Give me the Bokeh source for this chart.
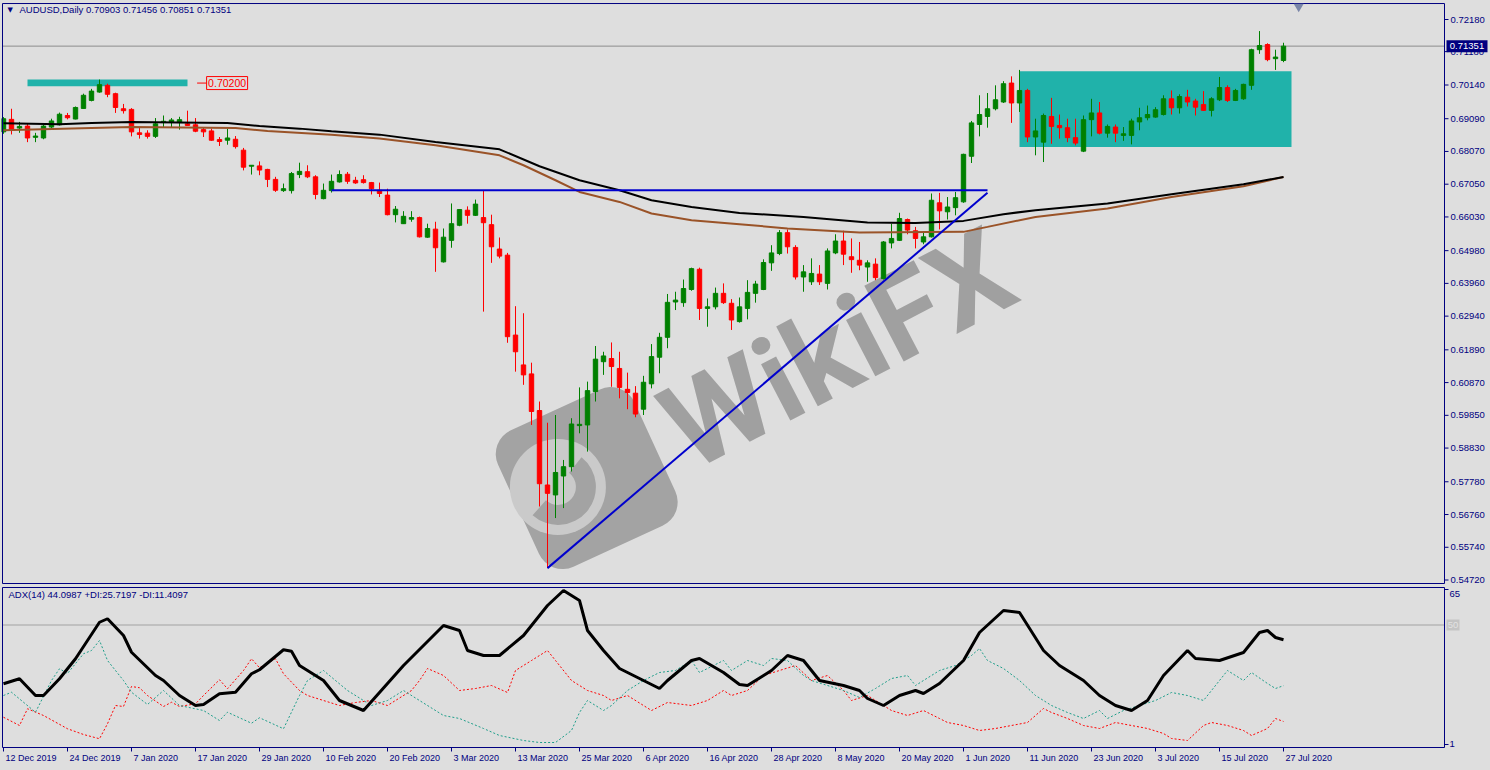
from bokeh.plotting import figure
from bokeh.models import Range1d, ColumnDataSource, Rect
from bokeh.layouts import column
from bokeh.embed import file_html
from bokeh.resources import INLINE
from bokeh.core.properties import value

# ---------------- data ----------------
date_labels = ["12 Dec 2019", "24 Dec 2019", "7 Jan 2020", "17 Jan 2020", "29 Jan 2020",
               "10 Feb 2020", "20 Feb 2020", "3 Mar 2020", "13 Mar 2020", "25 Mar 2020",
               "6 Apr 2020", "16 Apr 2020", "28 Apr 2020", "8 May 2020", "20 May 2020",
               "1 Jun 2020", "11 Jun 2020", "23 Jun 2020", "3 Jul 2020", "15 Jul 2020",
               "27 Jul 2020"]
date_label_bars = list(range(0, 161, 8))

open_ = [0.6868, 0.6907, 0.6880, 0.6886, 0.6851, 0.6849, 0.6883, 0.6890, 0.6919, 0.6908,
         0.6941, 0.6966, 0.6992, 0.7013, 0.6987, 0.6940, 0.6938, 0.6865, 0.6864, 0.6854,
         0.6897, 0.6899, 0.6897, 0.6893, 0.6890, 0.6875, 0.6871, 0.6844, 0.6842, 0.6845,
         0.6811, 0.6761, 0.6762, 0.6751, 0.6720, 0.6685, 0.6685, 0.6735, 0.6744, 0.6728,
         0.6660, 0.6685, 0.6712, 0.6736, 0.6717, 0.6719, 0.6710, 0.6686, 0.6671, 0.6610,
         0.6582, 0.6596, 0.6601, 0.6540, 0.6565, 0.6463, 0.6530, 0.6577, 0.6624, 0.6608,
         0.6601, 0.6579, 0.6503, 0.6484, 0.6235, 0.6142, 0.6114, 0.6000, 0.5768, 0.5737,
         0.5796, 0.5825, 0.5953, 0.5955, 0.6059, 0.6152, 0.6162, 0.6131, 0.6066, 0.6054,
         0.6004, 0.6083, 0.6166, 0.6228, 0.6338, 0.6336, 0.6377, 0.6440, 0.6318, 0.6323,
         0.6365, 0.6334, 0.6277, 0.6318, 0.6365, 0.6377, 0.6460, 0.6489, 0.6554, 0.6508,
         0.6416, 0.6401, 0.6425, 0.6396, 0.6491, 0.6528, 0.6479, 0.6468, 0.6447, 0.6456,
         0.6411, 0.6522, 0.6530, 0.6595, 0.6560, 0.6525, 0.6541, 0.6647, 0.6619, 0.6632,
         0.6650, 0.6792, 0.6891, 0.6916, 0.6940, 0.6961, 0.7020, 0.6958, 0.6997, 0.6852,
         0.6836, 0.6916, 0.6888, 0.6881, 0.6850, 0.6808, 0.6906, 0.6927, 0.6864, 0.6883,
         0.6857, 0.6857, 0.6899, 0.6912, 0.6914, 0.6922, 0.6971, 0.6943, 0.6976, 0.6964,
         0.6953, 0.6935, 0.6968, 0.7006, 0.6966, 0.6971, 0.7013, 0.7124, 0.7140, 0.7096,
         0.70903]
high = [0.6914, 0.6940, 0.6899, 0.6893, 0.6865, 0.6890, 0.6909, 0.6928, 0.6927, 0.6947,
        0.6987, 0.7002, 0.7031, 0.7018, 0.6990, 0.6955, 0.6942, 0.6880, 0.6873, 0.6911,
        0.6919, 0.6911, 0.6915, 0.6934, 0.6911, 0.6883, 0.6878, 0.6852, 0.6878, 0.6855,
        0.6818, 0.6764, 0.6776, 0.6753, 0.6728, 0.6707, 0.6743, 0.6772, 0.6764, 0.6733,
        0.6707, 0.6735, 0.6748, 0.6743, 0.6728, 0.6733, 0.6712, 0.6710, 0.6691, 0.6637,
        0.6621, 0.6621, 0.6604, 0.6582, 0.6588, 0.6567, 0.6645, 0.6626, 0.6636, 0.6657,
        0.6686, 0.6610, 0.6539, 0.6491, 0.6325, 0.6303, 0.6149, 0.6028, 0.5962, 0.5986,
        0.5846, 0.5976, 0.6072, 0.6090, 0.6201, 0.6183, 0.6212, 0.6183, 0.6118, 0.6076,
        0.6108, 0.6207, 0.6242, 0.6363, 0.6370, 0.6408, 0.6445, 0.6445, 0.6349, 0.6383,
        0.6396, 0.6347, 0.6352, 0.6406, 0.6404, 0.6471, 0.6515, 0.6562, 0.6564, 0.6515,
        0.6453, 0.6474, 0.6453, 0.6505, 0.6549, 0.6560, 0.6536, 0.6525, 0.6468, 0.6474,
        0.6528, 0.6582, 0.6616, 0.6598, 0.6572, 0.6557, 0.6676, 0.6678, 0.6665, 0.6681,
        0.6800, 0.6902, 0.6982, 0.6989, 0.7013, 0.7026, 0.7041, 0.7061, 0.7002, 0.6909,
        0.6925, 0.6974, 0.6922, 0.6909, 0.6909, 0.6919, 0.6971, 0.6961, 0.6891, 0.6891,
        0.6883, 0.6909, 0.6943, 0.6950, 0.6945, 0.6982, 0.6997, 0.6985, 0.6999, 0.6971,
        0.6995, 0.6976, 0.7039, 0.7013, 0.7002, 0.7018, 0.7127, 0.7182, 0.7144, 0.7124,
        0.71456]
low = [0.6862, 0.6860, 0.6865, 0.6836, 0.6836, 0.6845, 0.6880, 0.6888, 0.6907, 0.6907,
       0.6940, 0.6963, 0.6990, 0.6976, 0.6927, 0.6925, 0.6854, 0.6847, 0.6847, 0.6849,
       0.6883, 0.6883, 0.6875, 0.6888, 0.6867, 0.6852, 0.6840, 0.6824, 0.6828, 0.6816,
       0.6748, 0.6735, 0.6733, 0.6696, 0.6681, 0.6681, 0.6676, 0.6724, 0.6724, 0.6658,
       0.6658, 0.6679, 0.6710, 0.6706, 0.6706, 0.6707, 0.6673, 0.6665, 0.6608, 0.6586,
       0.6581, 0.6588, 0.6539, 0.6538, 0.6432, 0.6461, 0.6507, 0.6574, 0.6582, 0.6606,
       0.6308, 0.6460, 0.6474, 0.6211, 0.6121, 0.6080, 0.5955, 0.5701, 0.5509, 0.5665,
       0.5696, 0.5810, 0.5929, 0.5872, 0.6028, 0.6111, 0.6074, 0.6038, 0.6004, 0.5979,
       0.5986, 0.6069, 0.6116, 0.6194, 0.6313, 0.6323, 0.6373, 0.6282, 0.6261, 0.6315,
       0.6332, 0.6251, 0.6274, 0.6284, 0.6336, 0.6375, 0.6435, 0.6484, 0.6489, 0.6408,
       0.6370, 0.6391, 0.6391, 0.6377, 0.6487, 0.6453, 0.6429, 0.6437, 0.6401, 0.6406,
       0.6408, 0.6505, 0.6528, 0.6549, 0.6505, 0.6518, 0.6539, 0.6564, 0.6595, 0.6608,
       0.6647, 0.6771, 0.6854, 0.6881, 0.6935, 0.6958, 0.6896, 0.6930, 0.6836, 0.6795,
       0.6774, 0.6831, 0.6847, 0.6836, 0.6826, 0.6805, 0.6854, 0.6860, 0.6850, 0.6836,
       0.6840, 0.6829, 0.6873, 0.6904, 0.6912, 0.6919, 0.6922, 0.6925, 0.6947, 0.6919,
       0.6933, 0.6916, 0.6964, 0.6961, 0.6964, 0.6968, 0.6999, 0.7111, 0.7088, 0.7061,
       0.70851]
close = [0.6909, 0.6876, 0.6885, 0.6849, 0.6855, 0.6886, 0.6902, 0.6923, 0.6912, 0.6944,
         0.6982, 0.6995, 0.7015, 0.6985, 0.6944, 0.6934, 0.6868, 0.6860, 0.6854, 0.6893,
         0.6901, 0.6905, 0.6906, 0.6888, 0.6870, 0.6868, 0.6842, 0.6838, 0.6849, 0.6822,
         0.6758, 0.6764, 0.6749, 0.6720, 0.6686, 0.6691, 0.6738, 0.6745, 0.6728, 0.6673,
         0.6686, 0.6714, 0.6735, 0.6714, 0.6709, 0.6710, 0.6691, 0.6676, 0.6610, 0.6627,
         0.6605, 0.6601, 0.6541, 0.6567, 0.6507, 0.6540, 0.6582, 0.6626, 0.6608, 0.6643,
         0.6585, 0.6510, 0.6481, 0.6230, 0.6183, 0.6111, 0.5997, 0.5772, 0.5742, 0.5807,
         0.5825, 0.5958, 0.5957, 0.6062, 0.6160, 0.6170, 0.6137, 0.6072, 0.6056, 0.5989,
         0.6088, 0.6168, 0.6228, 0.6337, 0.6344, 0.6380, 0.6442, 0.6318, 0.6323, 0.6365,
         0.6336, 0.6282, 0.6323, 0.6368, 0.6394, 0.6461, 0.6491, 0.6554, 0.6510, 0.6416,
         0.6432, 0.6427, 0.6401, 0.6497, 0.6528, 0.6487, 0.6470, 0.6453, 0.6460, 0.6414,
         0.6525, 0.6536, 0.6598, 0.6562, 0.6536, 0.6541, 0.6655, 0.6622, 0.6634, 0.6663,
         0.6798, 0.6896, 0.6922, 0.6940, 0.6968, 0.7018, 0.6958, 0.6997, 0.6852, 0.6871,
         0.6919, 0.6885, 0.6881, 0.6850, 0.6833, 0.6906, 0.6927, 0.6864, 0.6885, 0.6864,
         0.6862, 0.6902, 0.6912, 0.6922, 0.6937, 0.6971, 0.6943, 0.6978, 0.6961, 0.6945,
         0.6935, 0.6971, 0.7006, 0.6966, 0.6997, 0.7016, 0.7124, 0.7137, 0.7093, 0.7101,
         0.71351]

ma_black_bar = [0, 7, 11, 16, 28, 32, 37, 41, 47, 54, 62, 67, 72, 77, 81, 86, 92, 100, 108,
                114, 120, 125, 129, 138, 146, 155, 160]
ma_black_val = [0.68946, 0.68915, 0.68955, 0.68986, 0.68955, 0.68862, 0.68781, 0.68697,
                0.68594, 0.68364, 0.68137, 0.67608, 0.67173, 0.66862, 0.66551, 0.66343,
                0.66156, 0.66031, 0.65857, 0.65845, 0.65907, 0.66116, 0.66240, 0.66448,
                0.66738, 0.67049, 0.67276]
ma_brown_bar = [0, 11, 16, 29, 33, 41, 47, 54, 62, 65, 69, 72, 77, 81, 86, 92, 98, 107, 120,
                123, 129, 138, 146, 155, 160]
ma_brown_val = [0.68728, 0.68800, 0.68831, 0.68800, 0.68706, 0.68594, 0.68470, 0.68261,
                0.67950, 0.67640, 0.67173, 0.66809, 0.66498, 0.66137, 0.65929, 0.65805,
                0.65671, 0.65546, 0.65565, 0.65720, 0.66031, 0.66293, 0.66654, 0.66987,
                0.67276]

adx_bar = [0, 2, 4, 5, 7, 9, 12, 13, 15, 16, 19, 20, 22, 24, 25, 27, 29, 31, 32, 35, 36, 37,
           40, 42, 45, 50, 55, 57, 58, 60, 62, 65, 68, 70, 72, 73, 75, 77, 80, 82, 83, 86,
           87, 90, 92, 93, 96, 98, 100, 102, 105, 107, 108, 110, 112, 114, 115, 117, 120,
           122, 125, 127, 130, 132, 135, 137, 139, 141, 143, 145, 148, 149, 152, 155, 157,
           158, 159, 160]
adx_val = [26.5, 28.5, 21.8, 21.8, 28.5, 36.5, 51.1, 52.5, 45.8, 39.1, 29.8, 27.8, 21.8,
           17.8, 18.2, 22.5, 23.1, 30.5, 32.1, 40.1, 39.5, 33.8, 27.8, 19.8, 15.8, 33.8,
           49.8, 47.8, 39.8, 37.8, 37.8, 45.8, 57.8, 63.8, 59.8, 47.8, 39.8, 32.6, 27.8,
           24.6, 27.8, 35.8, 36.6, 31.0, 26.2, 25.8, 31.8, 37.8, 35.8, 27.8, 25.8, 23.8,
           20.6, 17.8, 21.8, 23.8, 22.6, 26.6, 35.8, 47.0, 55.8, 55.0, 39.8, 33.8, 27.8,
           21.8, 17.8, 15.8, 19.8, 29.8, 39.8, 36.6, 35.8, 39.0, 47.0, 47.8, 45.0, 44.0987]
pdi_bar = [0, 1, 4, 6, 7, 8, 10, 11, 12, 13, 15, 16, 18, 20, 22, 25, 27, 28, 31, 32, 35, 37,
           38, 40, 43, 45, 46, 48, 50, 52, 55, 57, 60, 62, 65, 67, 69, 71, 72, 73, 75, 76,
           78, 80, 82, 84, 86, 87, 88, 90, 91, 93, 95, 96, 98, 100, 101, 103, 105, 107, 109,
           111, 113, 114, 115, 117, 119, 121, 122, 123, 125, 127, 129, 131, 133, 135, 137,
           138, 140, 142, 144, 146, 148, 150, 151, 153, 155, 156, 158, 159, 160]
pdi_val = [21.8, 23.1, 15.1, 27.8, 32.5, 30.6, 38.5, 39.8, 43.8, 35.8, 27.8, 23.1, 18.2,
           23.8, 17.8, 15.8, 11.8, 15.1, 10.7, 12.9, 8.5, 21.8, 27.8, 31.8, 23.8, 19.8, 17.8,
           19.8, 23.8, 19.8, 13.8, 12.6, 8.6, 5.8, 3.8, 3.0, 3.0, 7.8, 15.0, 19.8, 15.8,
           17.8, 23.8, 27.8, 31.0, 31.8, 35.8, 31.0, 32.6, 35.8, 31.8, 35.8, 33.8, 36.6,
           35.8, 29.8, 27.8, 25.8, 23.8, 21.0, 24.6, 28.6, 29.8, 25.8, 27.8, 31.8, 33.8,
           37.8, 40.6, 35.8, 32.6, 27.8, 21.8, 17.8, 15.0, 12.6, 15.8, 12.6, 15.8, 17.8,
           19.8, 23.0, 21.8, 19.8, 23.8, 31.8, 27.8, 31.0, 26.6, 24.6, 25.7197]
mdi_bar = [0, 2, 3, 5, 8, 10, 12, 13, 14, 15, 16, 17, 18, 20, 21, 22, 24, 25, 27, 28, 30,
           31, 32, 34, 35, 37, 38, 40, 42, 44, 46, 48, 49, 51, 52, 53, 55, 57, 59, 61, 63,
           64, 66, 68, 69, 71, 73, 75, 76, 78, 80, 81, 83, 86, 88, 90, 91, 93, 95, 97, 99,
           101, 103, 105, 106, 108, 110, 111, 113, 115, 117, 118, 120, 122, 124, 126, 128,
           130, 131, 133, 135, 137, 139, 141, 143, 145, 146, 148, 150, 151, 153, 155, 156,
           158, 159, 160]
mdi_val = [13.1, 9.8, 16.5, 13.8, 8.5, 6.2, 4.5, 10.5, 17.8, 17.4, 25.4, 24.9, 21.8, 17.4,
           19.1, 17.4, 18.5, 21.8, 28.1, 24.5, 31.8, 36.5, 32.9, 36.5, 30.5, 23.8, 21.8,
           19.8, 17.8, 19.0, 19.8, 17.8, 19.8, 23.8, 27.8, 32.6, 29.8, 23.8, 24.6, 25.8,
           23.0, 31.8, 35.8, 39.8, 35.8, 27.8, 23.8, 21.8, 19.8, 21.8, 17.8, 15.8, 19.0,
           17.8, 19.8, 23.8, 21.8, 23.8, 29.8, 31.8, 33.8, 27.8, 29.8, 23.8, 19.8, 21.8,
           17.8, 15.8, 13.8, 15.8, 12.6, 11.0, 9.8, 7.8, 8.6, 9.8, 11.0, 16.6, 15.0, 12.6,
           9.8, 8.6, 11.0, 9.8, 8.6, 6.6, 4.6, 3.8, 9.8, 11.0, 9.8, 7.8, 5.8, 8.6, 12.6,
           11.4097]

price_ticks = [0.72180, 0.71180, 0.70140, 0.69090, 0.68070, 0.67050, 0.66030, 0.64980,
               0.63960, 0.62940, 0.61890, 0.60870, 0.59850, 0.58830, 0.57780, 0.56760,
               0.55740, 0.54720]
adx_scale_labels = ["65", "1"]

bid_price = 0.71351
level_label_price = 0.70200
resistance_level = 0.6686
resistance_from, resistance_to = 41, 123
trend_from = (68, 0.5509)
trend_to = (123, 0.6678)
zone_small = dict(left=3.0, right=23.0, bottom=0.7010, top=0.7031)
zone_big = dict(left=127.0, right=161.0, bottom=0.6821, top=0.7057)

# ---------------- styling / geometry ----------------
FONT = "Liberation Sans"
BG = "#DEDEDE"
NAVY = "#000080"
GREEN = "#008000"
RED = "#FF0000"
TEAL = "#20B2AA"
BLUE = "#0000CD"
BROWN = "#9A5328"
WM = "#A3A3A3"

PX_BAR = 8.0                 # pixels per bar
PX_PRICE = 0.0003115         # price per pixel (main panel)
PX_ADX = 0.4                 # ADX units per pixel

XL, XR = -0.25, 185.625      # frame extent in bars
XB_L, XB_R = -0.125, 180.125  # chart border (left edge, price-scale line)
P_TOP, P_BOT = 0.72710, 0.54549
PB_TOP, PB_BOT = 0.72678, 0.54611
A_TOP, A_BOT = 65.8, -7.4
TICK = 4 / PX_BAR

x_range = Range1d(XL, XR)

common = dict(toolbar_location=None, output_backend="svg",
              background_fill_color=BG, border_fill_color=BG,
              outline_line_color=None, x_axis_location=None, y_axis_location=None,
              min_border_left=1, min_border_right=0)

main = figure(x_range=x_range, y_range=Range1d(P_BOT, P_TOP),
              frame_width=1487, frame_height=583, min_border_top=2, min_border_bottom=0,
              **common)
main.grid.visible = False

# --- watermark (under the chart) ---
logo_kw = dict(width=150, height=150, width_units="screen", height_units="screen",
               angle=0.43, fill_color=WM, line_color=None)
if "border_radius" in Rect.properties():
    logo_kw["border_radius"] = 26
main.rect(x=[72.9], y=[0.57896], **logo_kw)
main.scatter(x=[69.3], y=[0.5762], marker="circle", size=96,
             fill_color="#CACACA", line_color=None)
main.annular_wedge(x=[69.3], y=[0.5762], inner_radius=18, outer_radius=38,
                   inner_radius_units="screen", outer_radius_units="screen",
                   start_angle=-2.3, end_angle=0.9, fill_color=WM, line_color=None)
main.text(x=[104.3], y=[0.6190], text=["WikiFX"], angle=0.48,
          text_font=value("Roboto"), text_font_style="bold", text_font_size="120px",
          text_color="#A0A0A0", text_align="center", text_baseline="middle")

# --- zones ---
for z in (zone_small, zone_big):
    main.quad(left=[z["left"]], right=[z["right"]], bottom=[z["bottom"]], top=[z["top"]],
              fill_color=TEAL, line_color=None)

# --- bid line ---
main.segment(x0=[XB_L], y0=[bid_price], x1=[XB_R], y1=[bid_price],
             line_color="#8C8C8C", line_width=1)

# --- candles ---
idx = list(range(len(open_)))
colors = [GREEN if c >= o else RED for o, c in zip(open_, close)]
src = ColumnDataSource(dict(x=idx, o=open_, h=high, l=low, c=close,
                            top=[max(o, c) for o, c in zip(open_, close)],
                            bottom=[min(o, c) for o, c in zip(open_, close)],
                            color=colors))
main.segment(x0="x", y0="l", x1="x", y1="h", line_color="color", line_width=1, source=src)
main.vbar(x="x", top="top", bottom="bottom", width=0.55, fill_color="color",
          line_color="color", line_width=1, source=src)

# --- moving averages ---
main.line(ma_brown_bar, ma_brown_val, line_color=BROWN, line_width=2)
main.line(ma_black_bar, ma_black_val, line_color="#000000", line_width=2)

# --- trend lines ---
main.line([resistance_from, resistance_to], [resistance_level, resistance_level],
          line_color=BLUE, line_width=2)
main.line([trend_from[0], trend_to[0]], [trend_from[1], trend_to[1]],
          line_color=BLUE, line_width=2)

# --- level label 0.70200 ---
main.segment(x0=[24.2], y0=[level_label_price], x1=[25.4], y1=[level_label_price],
             line_color=RED, line_width=1)
main.rect(x=[27.95], y=[level_label_price], width=41, height=13,
          width_units="screen", height_units="screen",
          fill_color=BG, line_color=RED, line_width=1)
main.text(x=[27.95], y=[level_label_price], text=["0.70200"],
          text_font=value(FONT), text_font_size="10.5px", text_color=RED,
          text_align="center", text_baseline="middle")

# --- chart border & price scale ---
main.quad(left=[XB_L], right=[XB_R], bottom=[PB_BOT], top=[PB_TOP],
          fill_color=None, line_color=NAVY, line_width=1)
main.segment(x0=[XB_R] * len(price_ticks), y0=price_ticks,
             x1=[XB_R + TICK] * len(price_ticks), y1=price_ticks,
             line_color=NAVY, line_width=1)
main.text(x=[XB_R] * len(price_ticks), y=price_ticks,
          text=[f"{t:.5f}" for t in price_ticks], x_offset=6,
          text_font=value(FONT), text_font_size="9.5px", text_color=NAVY,
          text_align="left", text_baseline="middle")

# --- bid price box ---
main.rect(x=[XB_R + 22.5 / PX_BAR], y=[bid_price], width=41, height=12,
          width_units="screen", height_units="screen", fill_color=NAVY, line_color=None)
main.text(x=[XB_R + 22.5 / PX_BAR], y=[bid_price], text=["0.71351"],
          text_font=value(FONT), text_font_size="9.5px", text_color="white",
          text_align="center", text_baseline="middle")

# --- shift marker ---
main.scatter(x=[161.9], y=[PB_TOP - 3 * PX_PRICE], marker="inverted_triangle", size=10,
             fill_color="#7A86A8", line_color=None)

# --- header ---
hdr_y = PB_TOP - 6 * PX_PRICE
main.text(x=[XB_L], y=[hdr_y], text=["\u25bc"], x_offset=5,
          text_font=value("DejaVu Sans"), text_font_size="7px", text_color=NAVY,
          text_align="left", text_baseline="middle")
main.text(x=[XB_L], y=[hdr_y], text=["AUDUSD,Daily  0.70903 0.71456 0.70851 0.71351"],
          x_offset=17, text_font=value(FONT), text_font_size="9.5px", text_color=NAVY,
          text_align="left", text_baseline="middle")

# ---------------- ADX panel ----------------
adx = figure(x_range=x_range, y_range=Range1d(A_BOT, A_TOP),
             frame_width=1487, frame_height=183, min_border_top=0, min_border_bottom=0,
             **common)
adx.grid.visible = False

adx.segment(x0=[XB_L], y0=[50], x1=[XB_R], y1=[50], line_color="#C0C0C0", line_width=2)
adx.line(mdi_bar, mdi_val, line_color=RED, line_width=1, line_dash="2 2")
adx.line(pdi_bar, pdi_val, line_color="#1F9E8A", line_width=1, line_dash="2 2")
adx.line(adx_bar, adx_val, line_color="#000000", line_width=3)

adx.quad(left=[XB_L], right=[XB_R], bottom=[1], top=[65],
         fill_color=None, line_color=NAVY, line_width=1)

# right scale of the ADX window
adx_tick_pos = [65 - 2 * PX_ADX, 1 + 3 * PX_ADX]
adx_label_pos = [65 - 6 * PX_ADX, 1 + 4 * PX_ADX]
adx.segment(x0=[XB_R] * 2, y0=adx_tick_pos, x1=[XB_R + TICK] * 2, y1=adx_tick_pos,
            line_color=NAVY, line_width=1)
adx.text(x=[XB_R] * 2, y=adx_label_pos, text=adx_scale_labels, x_offset=5,
         text_font=value(FONT), text_font_size="9.5px", text_color=NAVY,
         text_align="left", text_baseline="middle")
adx.rect(x=[XB_R + 8.5 / PX_BAR], y=[50], width=13, height=11,
         width_units="screen", height_units="screen", fill_color="#C4C4C4", line_color=None)
adx.text(x=[XB_R + 8.5 / PX_BAR], y=[50], text=["50"],
         text_font=value(FONT), text_font_size="9.5px", text_color="#E2E2E2",
         text_align="center", text_baseline="middle")

# date scale
adx.segment(x0=date_label_bars, y0=[1] * len(date_label_bars),
            x1=date_label_bars, y1=[1 - 4 * PX_ADX] * len(date_label_bars),
            line_color=NAVY, line_width=1)
adx.text(x=date_label_bars, y=[1 - 5 * PX_ADX] * len(date_label_bars), text=date_labels,
         x_offset=2, text_font=value(FONT), text_font_size="9px", text_color=NAVY,
         text_align="left", text_baseline="top")

adx.text(x=[XB_L], y=[65 - 7 * PX_ADX], text=["ADX(14) 44.0987 +DI:25.7197 -DI:11.4097"],
         x_offset=6, text_font=value(FONT), text_font_size="9.5px", text_color=NAVY,
         text_align="left", text_baseline="middle")

layout = column(main, adx, spacing=0)

html = file_html(layout, INLINE, title="AUDUSD Daily")
html = html.replace("<body>", '<body style="background-color:#DEDEDE;">')
open("out.html", "w").write(html)
